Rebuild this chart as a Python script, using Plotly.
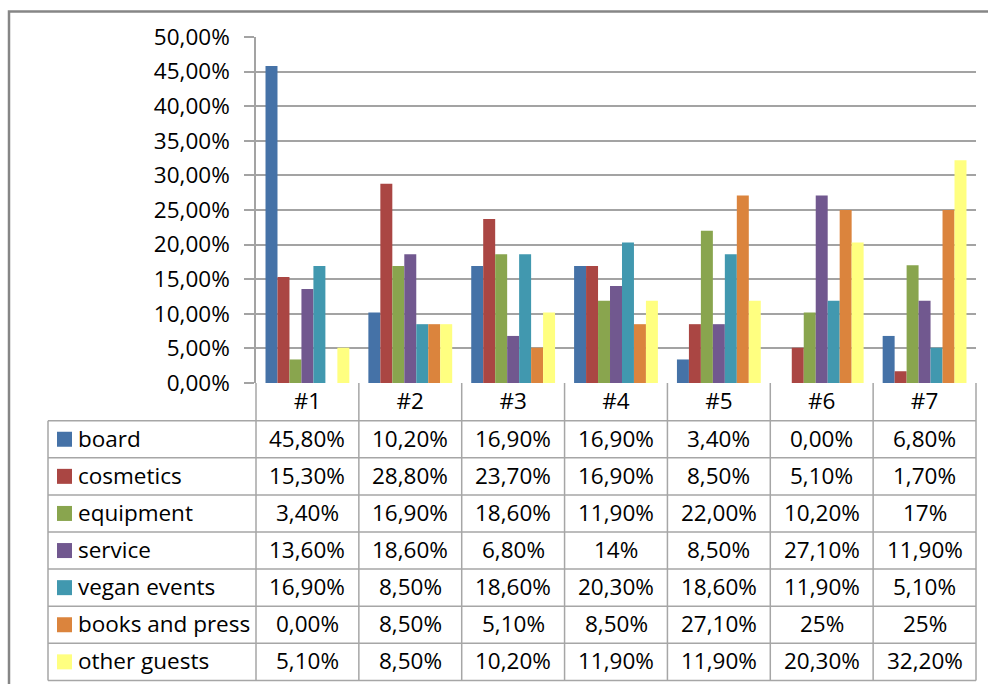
import plotly.graph_objects as go

# Survey categories (columns) and the share per topic, as shown in the data table
categories = ["#1", "#2", "#3", "#4", "#5", "#6", "#7"]

series_names = ["board", "cosmetics", "equipment", "service",
                "vegan events", "books and press", "other guests"]

board = ["45,80%", "10,20%", "16,90%", "16,90%", "3,40%", "0,00%", "6,80%"]
cosmetics = ["15,30%", "28,80%", "23,70%", "16,90%", "8,50%", "5,10%", "1,70%"]
equipment = ["3,40%", "16,90%", "18,60%", "11,90%", "22,00%", "10,20%", "17%"]
service = ["13,60%", "18,60%", "6,80%", "14%", "8,50%", "27,10%", "11,90%"]
vegan_events = ["16,90%", "8,50%", "18,60%", "20,30%", "18,60%", "11,90%", "5,10%"]
books_and_press = ["0,00%", "8,50%", "5,10%", "8,50%", "27,10%", "25%", "25%"]
other_guests = ["5,10%", "8,50%", "10,20%", "11,90%", "11,90%", "20,30%", "32,20%"]

series_text = [board, cosmetics, equipment, service,
               vegan_events, books_and_press, other_guests]

colors = ["#4572A7", "#AA4643", "#89A54E", "#71588F",
          "#4198AF", "#DB843D", "#FFFF80"]

y_ticks = [0, 5, 10, 15, 20, 25, 30, 35, 40, 45, 50]
y_tick_text = [f"{v:.2f}".replace(".", ",") + "%" for v in y_ticks]


def to_number(txt):
    return float(txt.replace("%", "").replace(",", "."))


# ---- page geometry (pixels) ----
W, H = 988, 684
PL, PR = 256, 976          # plot area left / right
PT, PB = 37, 383           # plot area top / bottom
ROW_H = 37.1
HEADER_BOTTOM = 420.7
TABLE_LEFT = 48
N_ROWS = len(series_names)
TABLE_BOTTOM = HEADER_BOTTOM + N_ROWS * ROW_H

FONT = "'Open Sans', 'Noto Sans', sans-serif"
FSIZE = 22.5
GRID = "#a3a3a3"
TABLE_LINE = "#a6a6a6"
FRAME = "#868686"


def px(x):
    return (x - PL) / (PR - PL)


def py(y):
    return (PB - y) / (PB - PT)


fig = go.Figure()

for name, texts, color in zip(series_names, series_text, colors):
    fig.add_trace(go.Bar(
        x=categories,
        y=[to_number(t) for t in texts],
        name=name,
        marker=dict(color=color, line=dict(width=0)),
        showlegend=False,
    ))

shapes = []
annotations = []

# outer chart frame (left and top edges visible)
shapes.append(dict(
    type="path", xref="paper", yref="paper",
    path=f"M {px(9)} {py(720)} L {px(9)} {py(11.5)} L {px(1000)} {py(11.5)}",
    line=dict(color=FRAME, width=2.5),
))

# table horizontal lines
for k in range(N_ROWS + 1):
    yy = HEADER_BOTTOM + k * ROW_H
    shapes.append(dict(
        type="line", xref="paper", yref="paper",
        x0=px(TABLE_LEFT), x1=px(PR), y0=py(yy), y1=py(yy),
        line=dict(color=TABLE_LINE, width=1.5),
    ))

# table vertical lines: label column edge, plot edges, category boundaries
shapes.append(dict(type="line", xref="paper", yref="paper",
                   x0=px(TABLE_LEFT), x1=px(TABLE_LEFT),
                   y0=py(HEADER_BOTTOM), y1=py(TABLE_BOTTOM),
                   line=dict(color=TABLE_LINE, width=1.5)))
for xx in (PL, PR):
    shapes.append(dict(type="line", xref="paper", yref="paper",
                       x0=px(xx), x1=px(xx), y0=py(PB), y1=py(TABLE_BOTTOM),
                       line=dict(color=TABLE_LINE, width=1.5)))
for i in range(1, len(categories)):
    shapes.append(dict(type="line", xref="x", yref="paper",
                       x0=i - 0.5, x1=i - 0.5, y0=py(PB), y1=py(TABLE_BOTTOM),
                       line=dict(color=TABLE_LINE, width=1.5)))

# legend keys and row labels
for r, (name, color) in enumerate(zip(series_names, colors)):
    cy = HEADER_BOTTOM + (r + 0.5) * ROW_H
    shapes.append(dict(type="rect", xref="paper", yref="paper",
                       x0=px(57), x1=px(72), y0=py(cy - 7.5), y1=py(cy + 7.5),
                       fillcolor=color, line=dict(width=0)))
    annotations.append(dict(
        xref="paper", yref="paper", x=px(76), y=py(cy - 1),
        text=name, showarrow=False, xanchor="left", yanchor="middle",
        font=dict(family=FONT, size=FSIZE, color="#000000"),
    ))
    for c, txt in enumerate(series_text[r]):
        annotations.append(dict(
            xref="x", yref="paper", x=categories[c], y=py(cy - 1),
            text=txt, showarrow=False, xanchor="center", yanchor="middle",
            font=dict(family=FONT, size=FSIZE, color="#000000"),
        ))

fig.update_layout(
    width=W, height=H,
    margin=dict(l=PL, r=W - PR, t=PT, b=H - PB, pad=0),
    paper_bgcolor="white", plot_bgcolor="white",
    barmode="group", bargap=0.185, bargroupgap=0,
    font=dict(family=FONT, size=FSIZE, color="#000000"),
    shapes=shapes, annotations=annotations,
    xaxis=dict(
        type="category", range=[-0.5, len(categories) - 0.5],
        showgrid=False, zeroline=False,
        showline=False, ticks="", ticklen=0,
        tickfont=dict(family=FONT, size=FSIZE, color="#000000"),
        ticklabelstandoff=2,
    ),
    yaxis=dict(
        range=[0, 50], tickmode="array", tickvals=y_ticks, ticktext=y_tick_text,
        showgrid=True, gridcolor=GRID, gridwidth=1.5,
        zeroline=False, showline=True, linecolor=GRID, linewidth=1.5,
        ticks="outside", ticklen=10, tickcolor=GRID, tickwidth=1.5,
        tickfont=dict(family=FONT, size=FSIZE, color="#000000"),
        ticklabelstandoff=10,
    ),
)

fig.write_html("out.html")
